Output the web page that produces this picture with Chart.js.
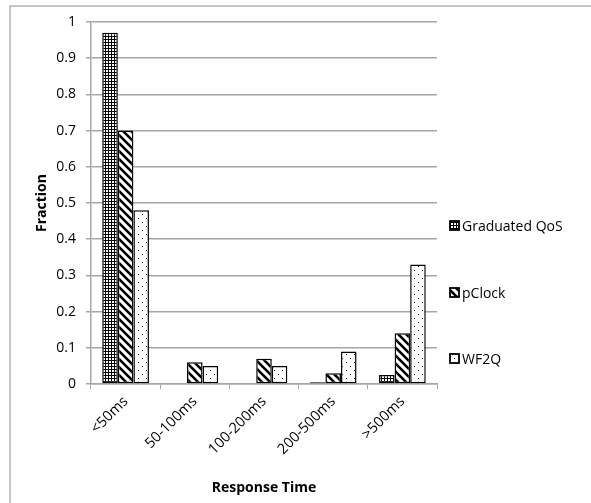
<!DOCTYPE html>
<html>
<head>
<meta charset="utf-8">
<script src="https://cdn.jsdelivr.net/npm/chart.js@4/dist/chart.umd.min.js"></script>
<style>
  html, body { margin: 0; padding: 0; background: #fff; }
  #wrap { width: 591px; height: 503px; }
</style>
</head>
<body>
<div id="wrap"><canvas id="bargraph" width="591" height="503"></canvas></div>
<script>
const categories = ["<50ms", "50-100ms", "100-200ms", "200-500ms", ">500ms"];
const gradQos = [0.97, 0, 0, 0.005, 0.025];
const pClock = [0.70, 0.06, 0.07, 0.03, 0.14];
const wf2q = [0.48, 0.05, 0.05, 0.09, 0.33];
const yTicks = [0, 0.1, 0.2, 0.3, 0.4, 0.5, 0.6, 0.7, 0.8, 0.9, 1];

const FONT = "'Open Sans', 'Noto Sans', sans-serif";

// fill patterns
function makePattern(draw, size) {
  const c = document.createElement('canvas');
  c.width = size; c.height = size;
  const g = c.getContext('2d');
  g.fillStyle = '#fff';
  g.fillRect(0, 0, size, size);
  g.fillStyle = '#000';
  g.strokeStyle = '#000';
  draw(g, size);
  return document.getElementById('bargraph').getContext('2d').createPattern(c, 'repeat');
}

const gridPat = makePattern((g, s) => {
  g.fillRect(0, 0, s, 1);
  g.fillRect(0, 0, 1, s);
}, 3);

const stripePat = makePattern((g, s) => {
  g.lineWidth = 2.6;
  g.beginPath();
  g.moveTo(-2, -2); g.lineTo(s + 2, s + 2);
  g.moveTo(-2, s - 2); g.lineTo(2, s + 2);
  g.moveTo(s - 2, -2); g.lineTo(s + 2, 2);
  g.stroke();
}, 8);

const dotPat = makePattern((g, s) => {
  g.fillRect(2, 2, 1, 1);
  g.fillRect(6, 6, 1, 1);
}, 8);

// outer frame and right-hand legend
const frame = {
  id: 'frame',
  beforeDraw(chart) {
    const ctx = chart.ctx;
    ctx.save();
    ctx.strokeStyle = '#b4b4b4';
    ctx.lineWidth = 1.5;
    ctx.beginPath();
    ctx.moveTo(10, chart.height);
    ctx.lineTo(10, 6);
    ctx.lineTo(chart.width, 6);
    ctx.stroke();
    ctx.restore();
  },
  afterDraw(chart) {
    const ctx = chart.ctx;
    ctx.save();
    const ys = [226, 293, 359];
    chart.data.datasets.forEach((ds, i) => {
      const y = ys[i];
      ctx.fillStyle = ds.backgroundColor;
      ctx.fillRect(450, y - 5, 9, 9);
      ctx.strokeStyle = '#000';
      ctx.lineWidth = 1.8;
      ctx.strokeRect(450, y - 5, 9, 9);
      ctx.fillStyle = '#000';
      ctx.font = '14px ' + FONT;
      ctx.textBaseline = 'middle';
      ctx.fillText(ds.label, 462, y + 1);
    });
    ctx.restore();
  }
};

const bargraph = document.querySelector("#bargraph").getContext('2d');

new Chart(bargraph, {
  type: "bar",
  data: {
    labels: categories,
    datasets: [
      { label: "Graduated QoS", data: gradQos, backgroundColor: gridPat },
      { label: "pClock", data: pClock, backgroundColor: stripePat },
      { label: "WF2Q", data: wf2q, backgroundColor: dotPat }
    ]
  },
  options: {
    responsive: false,
    animation: false,
    layout: { padding: { left: 20, top: 22, right: 154, bottom: 0 } },
    datasets: {
      bar: {
        borderColor: '#000',
        borderWidth: 1.5,
        borderSkipped: false,
        categoryPercentage: 0.675,
        barPercentage: 1
      }
    },
    plugins: {
      legend: { display: false },
      tooltip: { enabled: false }
    },
    scales: {
      x: {
        afterFit: (s) => { s.height = 119; },
        grid: {
          drawOnChartArea: false,
          drawTicks: true,
          tickLength: 5,
          color: '#a6a6a6',
          offset: true
        },
        border: { color: '#a6a6a6', width: 1.5 },
        ticks: {
          minRotation: 45,
          maxRotation: 45,
          color: '#000',
          font: { family: FONT, size: 14.5 },
          padding: 4
        },
        title: {
          display: true,
          text: 'Response Time',
          color: '#000',
          font: { family: FONT, size: 14, weight: 'bold' },
          padding: { top: 0, bottom: 7 }
        }
      },
      y: {
        min: 0,
        max: 1,
        afterFit: (s) => { s.width = 71; },
        afterBuildTicks: (s) => { s.ticks = yTicks.map(v => ({ value: v })); },
        grid: {
          color: '#a6a6a6',
          lineWidth: 1.5,
          tickLength: 5
        },
        border: { color: '#a6a6a6', width: 1.5 },
        ticks: {
          color: '#000',
          font: { family: FONT, size: 14 },
          padding: 10,
          callback: (v) => String(v)
        },
        title: {
          display: true,
          text: 'Fraction',
          color: '#000',
          font: { family: FONT, size: 14, weight: 'bold' },
          padding: { top: 14, bottom: 0 }
        }
      }
    }
  },
  plugins: [frame]
});
</script>
</body>
</html>
